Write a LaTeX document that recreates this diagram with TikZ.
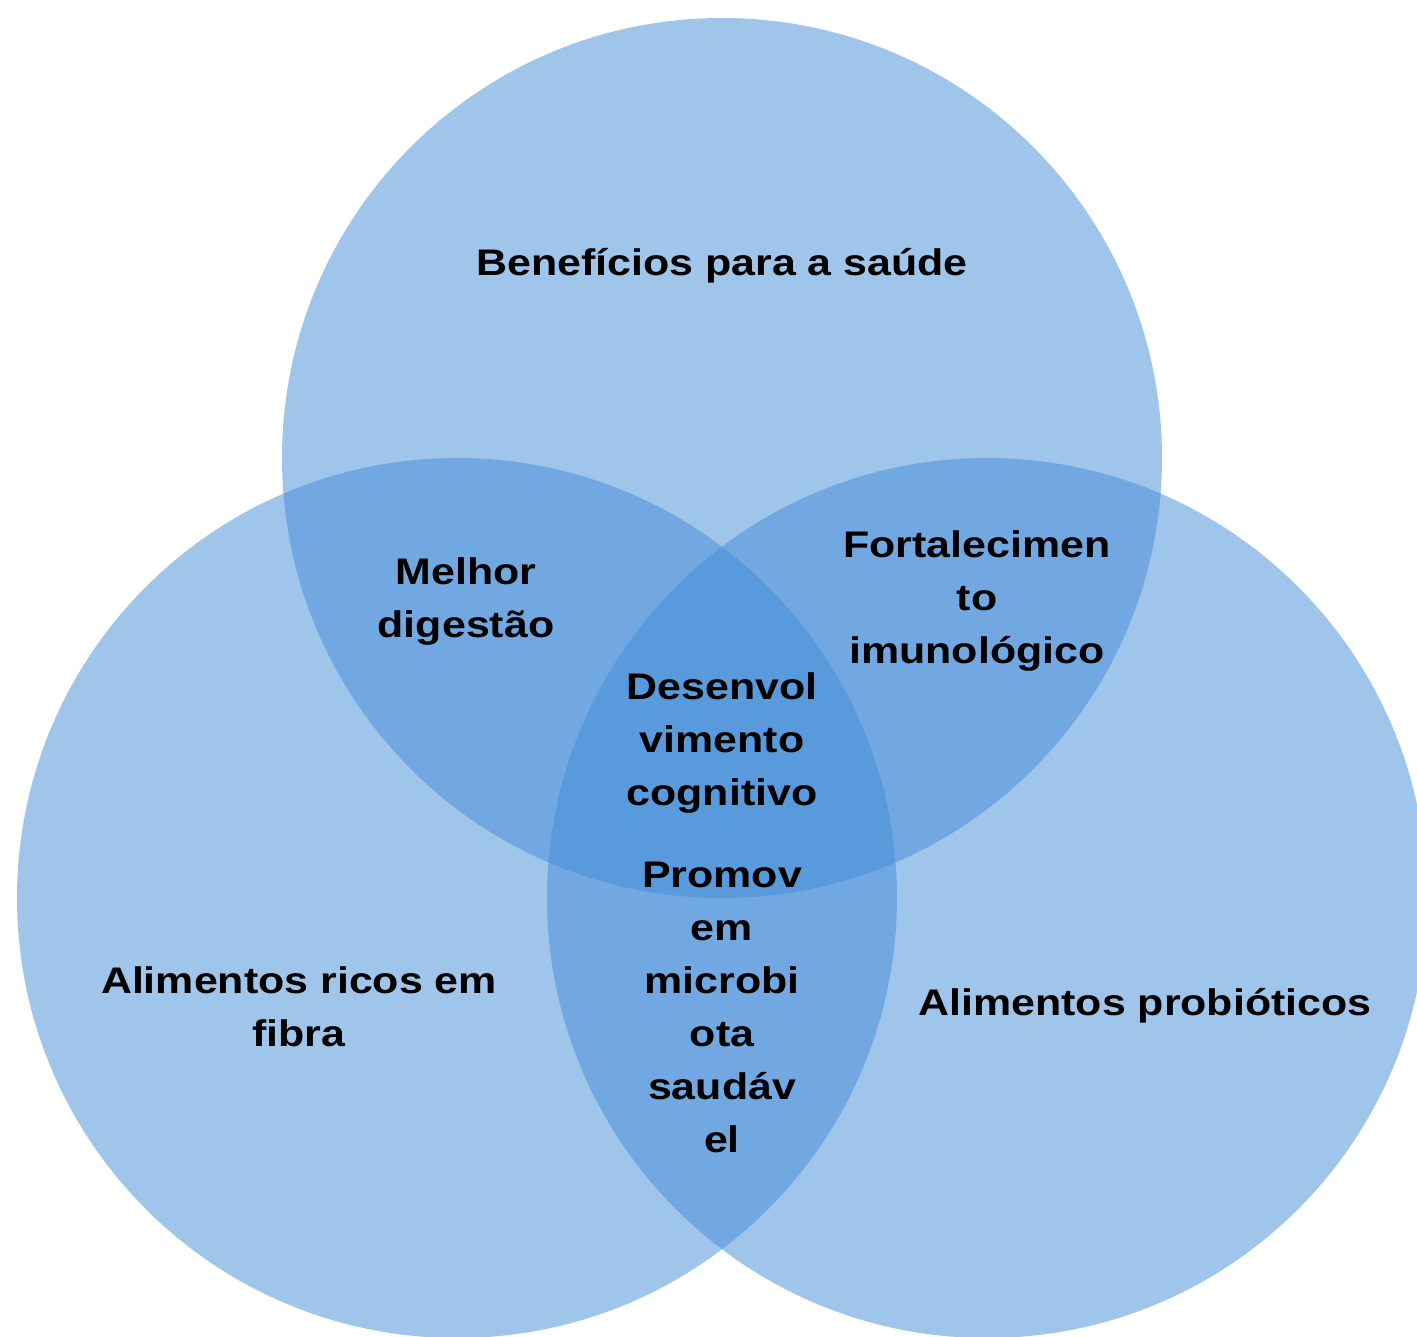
\documentclass[tikz,border=0pt]{standalone}
\usepackage{fontspec}
\setmainfont{Liberation Sans}[FakeStretch=1.16]
\definecolor{vennblue}{RGB}{67,141,217}
\begin{document}
\begin{tikzpicture}[x=1pt,y=-1pt,
  venn/.style={fill=vennblue,fill opacity=0.5,draw=none},
  lbl/.style={align=center,inner sep=0pt,text=black,font=\fontsize{37}{53}\selectfont\bfseries}]
\useasboundingbox (0,0) rectangle (1417,1337);
\fill[white] (0,0) rectangle (1417,1337);
\clip (0,0) rectangle (1417,1337);
\fill[venn] (722,458) circle[radius=440];
\fill[venn] (457,898) circle[radius=440];
\fill[venn] (987,898) circle[radius=440];
\node[lbl] (top) at (722,266) {Benefícios para a saúde};
\node[lbl] (tl) at (466,602) {Melhor\\digestão};
\node[lbl] (tr) at (977,601) {Fortalecimen\\to\\imunológico};
\node[lbl] (mid) at (722,743) {Desenvol\\vimento\\cognitivo};
\node[lbl] (bot) at (722,1007) {Promov\\em\\microbi\\ota\\saudáv\\el};
\node[lbl] (left) at (299,1007) {Alimentos ricos em\\fibra};
\node[lbl] (right) at (1145,1006) {Alimentos probióticos};
\end{tikzpicture}
\end{document}
